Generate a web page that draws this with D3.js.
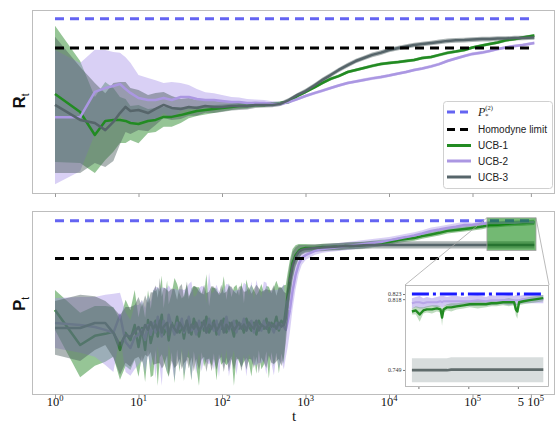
<!DOCTYPE html>
<html>
<head>
<meta charset="utf-8">
<script src="https://cdn.jsdelivr.net/npm/d3@7"></script>
<style>
    body { margin: 0; background: #fff; }
    svg { display: block; font-family: "Liberation Sans", Arial, sans-serif; }
</style>
</head>
<body>
<div id="chart"></div>
<script>
const W = 557, H = 423;

// reference levels
const pStar = 0.823;
const homodyne = 0.708;
const refT = [1, 550000];

// x ticks
const xTickVals = [1, 10, 100, 1000, 10000, 100000, 500000];
const xTickBase = ["10", "10", "10", "10", "10", "10", "5 10"];
const xTickExp = ["0", "1", "2", "3", "4", "5", "5"];

// top panel: R_t (mean and spread)
const tTop = [1, 2, 3, 4, 5, 6, 7, 8, 10, 13, 16, 20, 25, 32, 40, 50, 63, 80,
    100, 130, 160, 200, 250, 320, 400, 500, 630, 800,
    1000, 1300, 1600, 2000, 2500, 3200, 4000, 5000, 6300, 8000,
    10000, 13000, 16000, 20000, 25000, 32000, 40000, 50000, 63000, 80000,
    100000, 130000, 160000, 200000, 250000, 320000, 400000, 550000];
const r1 = [0.528, 0.457, 0.367, 0.422, 0.426, 0.426, 0.422, 0.414, 0.410, 0.422, 0.426, 0.438, 0.438, 0.445, 0.453, 0.461, 0.465, 0.469,
    0.473, 0.477, 0.481, 0.481, 0.485, 0.485, 0.489, 0.492, 0.496, 0.520,
    0.536, 0.555, 0.571, 0.587, 0.598, 0.614, 0.622, 0.630, 0.638, 0.645,
    0.649, 0.653, 0.657, 0.661, 0.669, 0.673, 0.681, 0.689, 0.694, 0.700,
    0.710, 0.718, 0.724, 0.730, 0.738, 0.743, 0.749, 0.757];
const r1Err = [0.267, 0.200, 0.149, 0.153, 0.125, 0.090, 0.086, 0.067, 0.075, 0.047, 0.047, 0.039, 0.039, 0.031, 0.020, 0.020, 0.018, 0.016,
    0.014, 0.012, 0.012, 0.010, 0.008, 0.008, 0.007, 0.006, 0.006, 0.006,
    0.006, 0.006, 0.006, 0.006, 0.006, 0.006, 0.006, 0.006, 0.006, 0.006,
    0.006, 0.006, 0.006, 0.006, 0.006, 0.006, 0.006, 0.006, 0.006, 0.006,
    0.006, 0.006, 0.006, 0.006, 0.006, 0.006, 0.006, 0.006];
const r2 = [0.437, 0.437, 0.536, 0.551, 0.559, 0.567, 0.547, 0.532, 0.512, 0.504, 0.504, 0.512, 0.504, 0.516, 0.516, 0.508, 0.504, 0.504,
    0.500, 0.496, 0.496, 0.492, 0.492, 0.492, 0.489, 0.489, 0.496, 0.508,
    0.520, 0.532, 0.541, 0.551, 0.561, 0.571, 0.577, 0.583, 0.589, 0.594,
    0.600, 0.608, 0.614, 0.622, 0.628, 0.636, 0.645, 0.657, 0.667, 0.677,
    0.685, 0.690, 0.696, 0.704, 0.710, 0.716, 0.720, 0.728];
const r2Err = [0.263, 0.212, 0.165, 0.149, 0.133, 0.122, 0.125, 0.118, 0.090, 0.086, 0.078, 0.059, 0.071, 0.055, 0.047, 0.039, 0.031, 0.027,
    0.024, 0.020, 0.018, 0.016, 0.014, 0.012, 0.010, 0.008, 0.006, 0.006,
    0.006, 0.006, 0.006, 0.006, 0.006, 0.006, 0.006, 0.006, 0.006, 0.006,
    0.006, 0.006, 0.006, 0.006, 0.006, 0.006, 0.006, 0.006, 0.006, 0.006,
    0.006, 0.006, 0.006, 0.006, 0.006, 0.006, 0.006, 0.006];
const r3 = [0.485, 0.426, 0.414, 0.386, 0.418, 0.453, 0.477, 0.461, 0.465, 0.453, 0.469, 0.485, 0.473, 0.469, 0.477, 0.473, 0.481, 0.477,
    0.477, 0.481, 0.481, 0.481, 0.485, 0.485, 0.485, 0.489, 0.504, 0.524,
    0.539, 0.563, 0.583, 0.602, 0.622, 0.641, 0.657, 0.669, 0.681, 0.690,
    0.700, 0.708, 0.714, 0.720, 0.724, 0.728, 0.732, 0.736, 0.738, 0.739,
    0.741, 0.743, 0.743, 0.745, 0.745, 0.747, 0.747, 0.749];
const r3Err = [0.267, 0.208, 0.157, 0.145, 0.153, 0.122, 0.098, 0.090, 0.078, 0.071, 0.063, 0.051, 0.047, 0.039, 0.035, 0.031, 0.027, 0.024,
    0.020, 0.018, 0.016, 0.014, 0.012, 0.010, 0.009, 0.008, 0.008, 0.008,
    0.009, 0.009, 0.009, 0.009, 0.009, 0.009, 0.009, 0.009, 0.009, 0.009,
    0.009, 0.009, 0.009, 0.009, 0.009, 0.009, 0.009, 0.009, 0.009, 0.009,
    0.009, 0.009, 0.009, 0.009, 0.009, 0.009, 0.009, 0.009];

// bottom panel: P_t (mean and spread)
const tBot = [1, 2, 3, 4, 5, 6, 7, 8, 9, 10, 11, 12, 13, 14,
    15, 16, 17, 18, 19, 20, 22, 23, 25, 27, 29, 31, 33, 35, 38, 40, 43, 46, 49, 53, 57, 61, 65, 70, 75, 80,
    86, 92, 98, 105, 113, 121, 130, 139, 149, 160, 171, 183, 196, 210, 225, 241, 258, 276, 296, 317,
    340, 364, 390, 418, 448, 480, 514, 550,
    580, 610, 650, 700, 760, 830, 900, 1000,
    1300, 1600, 2000, 2500, 3200, 4000, 5000, 6300, 8000,
    10000, 13000, 16000, 20000, 25000, 32000, 40000, 50000, 63000, 80000,
    100000, 130000, 160000, 200000, 250000, 320000, 400000, 550000];
const p1 = [0.551, 0.444, 0.472, 0.478, 0.484, 0.429, 0.481, 0.459, 0.505, 0.438, 0.496, 0.429, 0.520, 0.450,
    0.482, 0.518, 0.470, 0.506, 0.536, 0.476, 0.500, 0.458, 0.512, 0.488, 0.530, 0.482, 0.506, 0.464, 0.518, 0.494, 0.476, 0.524, 0.500, 0.470,
    0.512, 0.488, 0.530, 0.482, 0.500, 0.518, 0.476, 0.506, 0.494, 0.524, 0.482, 0.512, 0.500, 0.470, 0.518, 0.494, 0.506, 0.482, 0.524, 0.500,
    0.488, 0.512, 0.476, 0.518, 0.500, 0.494, 0.524, 0.482, 0.512, 0.500, 0.530, 0.488, 0.518, 0.506,
    0.551, 0.596, 0.648, 0.694, 0.718, 0.731, 0.737, 0.740,
    0.740, 0.743, 0.743, 0.744, 0.746, 0.747, 0.749, 0.752, 0.755,
    0.758, 0.764, 0.767, 0.770, 0.776, 0.781, 0.786, 0.792, 0.795, 0.798,
    0.801, 0.805, 0.810, 0.811, 0.813, 0.815, 0.816, 0.818];
const p1Err = [0.061, 0.098, 0.091, 0.085, 0.076, 0.091, 0.101, 0.091, 0.107, 0.091, 0.085, 0.098, 0.091, 0.104,
    0.13, 0.09, 0.15, 0.10, 0.12, 0.08, 0.14, 0.11, 0.09, 0.16, 0.10, 0.12, 0.08, 0.13, 0.11, 0.09, 0.14, 0.10, 0.12, 0.15,
    0.09, 0.11, 0.13, 0.08, 0.12, 0.10, 0.14, 0.09, 0.11, 0.13, 0.10, 0.12, 0.09, 0.15, 0.11, 0.10, 0.13, 0.09, 0.12, 0.11,
    0.14, 0.10, 0.12, 0.09, 0.13, 0.11, 0.10, 0.14, 0.09, 0.12, 0.11, 0.13, 0.10, 0.12,
    0.076, 0.067, 0.055, 0.043, 0.030, 0.021, 0.015, 0.012,
    0.010, 0.010, 0.010, 0.010, 0.010, 0.010, 0.010, 0.010, 0.010,
    0.008, 0.008, 0.008, 0.008, 0.008, 0.008, 0.008, 0.008, 0.008, 0.008,
    0.008, 0.008, 0.008, 0.008, 0.008, 0.008, 0.008, 0.008];
const p2 = [0.511, 0.505, 0.499, 0.490, 0.481, 0.536, 0.453, 0.435, 0.468, 0.475, 0.490, 0.459, 0.505, 0.475,
    0.512, 0.482, 0.530, 0.494, 0.470, 0.518, 0.488, 0.536, 0.500, 0.476, 0.512, 0.494, 0.524, 0.482, 0.506, 0.530, 0.488, 0.500, 0.476, 0.518,
    0.494, 0.512, 0.482, 0.524, 0.500, 0.488, 0.518, 0.476, 0.512, 0.494, 0.530, 0.488, 0.506, 0.518, 0.482, 0.512, 0.494, 0.524, 0.488, 0.506,
    0.518, 0.482, 0.512, 0.500, 0.488, 0.518, 0.494, 0.512, 0.500, 0.482, 0.512, 0.494, 0.506, 0.500,
    0.490, 0.514, 0.551, 0.609, 0.657, 0.691, 0.709, 0.718,
    0.731, 0.737, 0.740, 0.743, 0.746, 0.749, 0.752, 0.755, 0.758,
    0.763, 0.769, 0.773, 0.778, 0.784, 0.792, 0.796, 0.801, 0.805, 0.810,
    0.811, 0.814, 0.816, 0.816, 0.817, 0.817, 0.818, 0.818];
const p2Err = [0.076, 0.085, 0.091, 0.107, 0.119, 0.067, 0.091, 0.085, 0.098, 0.091, 0.091, 0.098, 0.091, 0.101,
    0.10, 0.14, 0.09, 0.12, 0.15, 0.10, 0.13, 0.09, 0.11, 0.14, 0.10, 0.12, 0.09, 0.13, 0.11, 0.10, 0.15, 0.09, 0.12, 0.10,
    0.13, 0.11, 0.09, 0.14, 0.10, 0.12, 0.11, 0.13, 0.09, 0.12, 0.10, 0.14, 0.11, 0.09, 0.13, 0.10, 0.12, 0.11, 0.14, 0.09,
    0.12, 0.10, 0.13, 0.11, 0.10, 0.12, 0.14, 0.09, 0.11, 0.13, 0.10, 0.12, 0.11, 0.13,
    0.085, 0.079, 0.067, 0.055, 0.043, 0.030, 0.021, 0.015,
    0.012, 0.012, 0.012, 0.012, 0.012, 0.012, 0.012, 0.012, 0.012,
    0.010, 0.010, 0.010, 0.010, 0.010, 0.010, 0.010, 0.010, 0.010, 0.010,
    0.006, 0.006, 0.006, 0.006, 0.006, 0.006, 0.006, 0.006];
const p3 = [0.496, 0.496, 0.511, 0.511, 0.481, 0.444, 0.475, 0.469, 0.484, 0.499, 0.475, 0.505, 0.490, 0.514,
    0.494, 0.506, 0.488, 0.518, 0.482, 0.500, 0.512, 0.476, 0.506, 0.494, 0.482, 0.512, 0.500, 0.488, 0.518, 0.482, 0.506, 0.494, 0.512, 0.488,
    0.500, 0.518, 0.482, 0.506, 0.494, 0.512, 0.488, 0.500, 0.518, 0.482, 0.506, 0.494, 0.512, 0.488, 0.500, 0.512, 0.494, 0.506, 0.488, 0.512,
    0.500, 0.494, 0.518, 0.488, 0.506, 0.500, 0.494, 0.512, 0.500, 0.506, 0.494, 0.512, 0.500, 0.506,
    0.526, 0.575, 0.636, 0.685, 0.712, 0.728, 0.734, 0.737,
    0.740, 0.741, 0.743, 0.744, 0.746, 0.747, 0.748, 0.749, 0.749,
    0.749, 0.749, 0.749, 0.749, 0.749, 0.749, 0.749, 0.749, 0.749, 0.749,
    0.749, 0.749, 0.749, 0.749, 0.749, 0.749, 0.749, 0.749];
const p3Err = [0.082, 0.101, 0.082, 0.067, 0.076, 0.091, 0.085, 0.091, 0.082, 0.091, 0.085, 0.091, 0.082, 0.091,
    0.11, 0.12, 0.10, 0.13, 0.11, 0.12, 0.10, 0.13, 0.11, 0.12, 0.10, 0.11, 0.13, 0.10, 0.12, 0.11, 0.10, 0.13, 0.11, 0.12,
    0.10, 0.11, 0.12, 0.10, 0.13, 0.11, 0.12, 0.10, 0.11, 0.12, 0.10, 0.13, 0.11, 0.12, 0.10, 0.11, 0.13, 0.10, 0.12, 0.11,
    0.10, 0.12, 0.11, 0.13, 0.10, 0.11, 0.12, 0.10, 0.11, 0.12, 0.10, 0.11, 0.12, 0.10,
    0.076, 0.067, 0.055, 0.043, 0.030, 0.021, 0.015, 0.012,
    0.011, 0.011, 0.011, 0.011, 0.011, 0.011, 0.011, 0.011, 0.011,
    0.011, 0.011, 0.011, 0.011, 0.011, 0.011, 0.011, 0.011, 0.011, 0.011,
    0.011, 0.011, 0.011, 0.011, 0.011, 0.011, 0.011, 0.011];

// inset (zoom of late P_t)
const inXDom = [149000, 576000];
const inYDom = [0.7324, 0.8318];
const inYTicks = [0.749, 0.818, 0.823];
const inXTicks = [169000, 270000, 430000];
const inT = [159000, 165000, 171000, 177000, 183000, 192000, 201000, 208000, 211000, 214000,
    221000, 230000, 242000, 258000, 274000, 295000, 319000, 335000, 352000, 374000,
    395000, 415000, 422000, 428000, 435000, 453000, 480000, 513000, 546000];
const inP1 = [0.806, 0.807, 0.803, 0.807, 0.808, 0.808, 0.809, 0.808, 0.800, 0.808,
    0.810, 0.810, 0.811, 0.812, 0.813, 0.813, 0.813, 0.814, 0.814, 0.815,
    0.815, 0.815, 0.808, 0.806, 0.815, 0.816, 0.817, 0.818, 0.819];
const inP1Err = [0.003, 0.004, 0.007, 0.003, 0.003, 0.004, 0.003, 0.003, 0.008, 0.003,
    0.003, 0.004, 0.003, 0.003, 0.003, 0.004, 0.003, 0.003, 0.003, 0.003,
    0.004, 0.003, 0.006, 0.007, 0.003, 0.003, 0.003, 0.003, 0.003];
const inP2 = [0.814, 0.815, 0.815, 0.814, 0.815, 0.815, 0.815, 0.816, 0.815, 0.816,
    0.816, 0.816, 0.816, 0.816, 0.816, 0.817, 0.816, 0.817, 0.817, 0.817,
    0.817, 0.817, 0.817, 0.817, 0.817, 0.818, 0.818, 0.818, 0.818];
const inP2Err = [0.005, 0.005, 0.006, 0.005, 0.005, 0.004, 0.005, 0.005, 0.006, 0.005,
    0.004, 0.005, 0.005, 0.004, 0.005, 0.005, 0.004, 0.005, 0.004, 0.004,
    0.005, 0.004, 0.005, 0.005, 0.004, 0.004, 0.004, 0.004, 0.004];
const inP3 = [0.7488, 0.7488, 0.7488, 0.7488, 0.7488, 0.7488, 0.7488, 0.7488, 0.7488, 0.7488,
    0.7488, 0.7493, 0.7493, 0.7493, 0.7493, 0.7493, 0.7493, 0.7493, 0.7493, 0.7493,
    0.7493, 0.7493, 0.7493, 0.7493, 0.7493, 0.7493, 0.7493, 0.7493, 0.7493];
const inP3Err = [0.0117, 0.0117, 0.0117, 0.0117, 0.0117, 0.0117, 0.0117, 0.0117, 0.0117, 0.0117,
    0.0117, 0.0122, 0.0122, 0.0122, 0.0122, 0.0122, 0.0122, 0.0122, 0.0122, 0.0122,
    0.0122, 0.0122, 0.0122, 0.0122, 0.0122, 0.0122, 0.0122, 0.0122, 0.0122];

const legendLabels = ["", "Homodyne limit", "UCB-1", "UCB-2", "UCB-3"];

const colors = {
    star: "#6464f2", homo: "#000000",
    ucb1: "#228b22", ucb2: "#ab97e2", ucb3: "#56656a",
    fill1: "#2e8b2e", fill2: "#a48fe6", fill3: "#4a5a5a"
};

const svg = d3.select("#chart").append("svg")
    .attr("width", W)
    .attr("height", H);

const x = d3.scaleLog().domain([0.5303, 972700]).range([32, 555]);
const yTop = d3.scaleLinear().domain([0.1395, 0.8571]).range([193, 10]);
const yBot = d3.scaleLinear().domain([0.2946, 0.8526]).range([394, 211]);

// split: lines below this t go under the bands (noisy part), the rest on top
function drawBands(body, xs, y, t, series, split) {
    const mkLine = (s, def) => d3.line()
        .defined(def)
        .x(d => xs(d))
        .y((d, i) => y(s.m[i]));
    const addLine = (s, def) => body.append("path").datum(t)
        .attr("d", mkLine(s, def))
        .attr("fill", "none")
        .attr("stroke", s.color)
        .attr("stroke-width", s.w || 2.5)
        .attr("stroke-linejoin", "round");

    if (split) series.forEach(s => addLine(s, d => d <= split));
    series.forEach(s => {
        body.append("path").datum(t)
            .attr("d", d3.area()
                .x(d => xs(d))
                .y0((d, i) => y(s.m[i] - s.e[i]))
                .y1((d, i) => y(s.m[i] + s.e[i])))
            .attr("fill", s.fill)
            .attr("fill-opacity", s.op)
            .attr("stroke", "none");
    });
    series.forEach(s => addLine(s, d => !split || d >= split));
}

function drawPanel(top, bottom, y, t, series, id, split) {
    svg.append("clipPath").attr("id", id).append("rect")
        .attr("x", 32).attr("y", top).attr("width", 523).attr("height", bottom - top);
    const g = svg.append("g");
    const body = g.append("g").attr("clip-path", `url(#${id})`);

    drawBands(body, x, y, t, series, split);

    // reference levels
    [[pStar, colors.star], [homodyne, colors.homo]].forEach(([v, c]) => {
        body.append("line")
            .attr("x1", x(refT[0])).attr("x2", x(refT[1]))
            .attr("y1", y(v)).attr("y2", y(v))
            .attr("stroke", c)
            .attr("stroke-width", 3)
            .attr("stroke-dasharray", "9,6");
    });

    g.append("rect")
        .attr("x", 32.5).attr("y", top + 0.5)
        .attr("width", 522).attr("height", bottom - top)
        .attr("fill", "none").attr("stroke", "#bdbdbd");

    const ax = g.append("g")
        .attr("transform", `translate(0,${bottom + 0.5})`)
        .call(d3.axisBottom(x).tickValues(xTickVals).tickSize(3.5).tickFormat(""));
    ax.select(".domain").remove();
    ax.selectAll("line").attr("stroke", "#999");
    return body;
}

const mkSeries = (a, b, c) => [
    { m: a[0], e: a[1], fill: colors.fill1, op: 0.5, color: colors.ucb1 },
    { m: b[0], e: b[1], fill: colors.fill2, op: 0.42, color: colors.ucb2 },
    { m: c[0], e: c[1], fill: colors.fill3, op: 0.45, color: colors.ucb3 }
];

drawPanel(10, 193, yTop, tTop, mkSeries([r1, r1Err], [r2, r2Err], [r3, r3Err]), "clipTop");
drawPanel(211, 394, yBot, tBot, mkSeries([p1, p1Err], [p2, p2Err], [p3, p3Err]), "clipBot", 650);

// zoom rectangle and connectors
const rx0 = x(inXDom[0]), rx1 = x(inXDom[1]);
const ry0 = yBot(inYDom[1]), ry1 = yBot(inYDom[0]);
const inBox = { x0: 405, x1: 549, y0: 285, y1: 387 };

svg.append("line").attr("x1", rx0).attr("y1", ry0).attr("x2", inBox.x0).attr("y2", inBox.y0)
    .attr("stroke", "#a8a8a8").attr("stroke-width", 0.8);
svg.append("line").attr("x1", rx1).attr("y1", ry0).attr("x2", inBox.x1).attr("y2", inBox.y0)
    .attr("stroke", "#a8a8a8").attr("stroke-width", 0.8);
svg.append("rect")
    .attr("x", rx0).attr("y", ry0).attr("width", rx1 - rx0).attr("height", ry1 - ry0)
    .attr("fill", "green").attr("fill-opacity", 0.55)
    .attr("stroke", "#a0a0a0").attr("stroke-width", 0.8);

// inset
const xIn = d3.scaleLog().domain(inXDom).range([inBox.x0, inBox.x1]);
const yIn = d3.scaleLinear().domain(inYDom).range([inBox.y1, inBox.y0]);
svg.append("clipPath").attr("id", "clipIn").append("rect")
    .attr("x", inBox.x0).attr("y", inBox.y0)
    .attr("width", inBox.x1 - inBox.x0).attr("height", inBox.y1 - inBox.y0);
const inset = svg.append("g");
inset.append("rect")
    .attr("x", inBox.x0).attr("y", inBox.y0)
    .attr("width", inBox.x1 - inBox.x0).attr("height", inBox.y1 - inBox.y0)
    .attr("fill", "#fff");
const inBody = inset.append("g").attr("clip-path", "url(#clipIn)");
drawBands(inBody, xIn, yIn, inT, [
    { m: inP3, e: inP3Err, fill: "#a9b3b3", op: 0.45, color: "#5f6b6b", w: 2.6 },
    { m: inP2, e: inP2Err, fill: colors.fill2, op: 0.5, color: "#b8a6e8", w: 2 },
    { m: inP1, e: inP1Err, fill: colors.fill1, op: 0.3, color: colors.ucb1, w: 2.4 }
]);
inBody.append("line")
    .attr("x1", xIn(inT[0])).attr("x2", xIn(inT[inT.length - 1]))
    .attr("y1", yIn(pStar)).attr("y2", yIn(pStar))
    .attr("stroke", "#1a1aff").attr("stroke-width", 3)
    .attr("stroke-dasharray", "17,4,3,4");
inset.append("rect")
    .attr("x", inBox.x0 + 0.5).attr("y", inBox.y0 + 0.5)
    .attr("width", inBox.x1 - inBox.x0 - 1).attr("height", inBox.y1 - inBox.y0 - 1)
    .attr("fill", "none").attr("stroke", "#aaa").attr("stroke-width", 0.8);
const inY = inset.append("g")
    .attr("transform", `translate(${inBox.x0},0)`)
    .call(d3.axisLeft(yIn).tickValues(inYTicks).tickSize(2).tickPadding(1.5).tickFormat(d3.format(".3f")));
inY.select(".domain").remove();
inY.selectAll("line").attr("stroke", "#777");
inY.selectAll("text").attr("font-family", "'Liberation Serif', serif").attr("font-size", 6).attr("fill", "#333");
const inX = inset.append("g")
    .attr("transform", `translate(0,${inBox.y1})`)
    .call(d3.axisBottom(xIn).tickValues(inXTicks).tickSize(2).tickFormat(""));
inX.select(".domain").remove();
inX.selectAll("line").attr("stroke", "#777");

// x tick labels (bottom panel)
xTickVals.forEach((v, i) => {
    const tx = svg.append("text")
        .attr("x", x(v)).attr("y", 406)
        .attr("text-anchor", "middle")
        .attr("font-family", "'Liberation Serif', 'Times New Roman', serif")
        .attr("font-size", 12.5)
        .attr("fill", "#111");
    tx.append("tspan").text(xTickBase[i]);
    tx.append("tspan").attr("dy", -5).attr("font-size", 8.5).text(xTickExp[i]);
});

svg.append("text")
    .attr("x", 294).attr("y", 421)
    .attr("text-anchor", "middle")
    .attr("font-family", "'Liberation Serif', serif")
    .attr("font-size", 15)
    .attr("fill", "#111")
    .text("t");

// y labels
[["R", 101], ["P", 304]].forEach(([s, cy]) => {
    const t = svg.append("text")
        .attr("transform", `translate(25,${cy}) rotate(-90)`)
        .attr("text-anchor", "middle")
        .attr("font-size", 17)
        .attr("font-weight", "bold")
        .attr("fill", "#111");
    t.append("tspan").text(s);
    t.append("tspan").attr("dy", 4).attr("font-size", 10).attr("font-weight", "normal").text("t");
});

// legend
const lg = svg.append("g");
lg.append("rect")
    .attr("x", 443.5).attr("y", 101.5).attr("width", 109).attr("height", 87).attr("rx", 3)
    .attr("fill", "#fff").attr("fill-opacity", 0.85)
    .attr("stroke", "#d0d0d0");
const rowY = [112, 129.5, 145.5, 161, 177];
const legStyles = [
    { c: colors.star, dash: "8,5" },
    { c: colors.homo, dash: "8,5" },
    { c: colors.ucb1, dash: null },
    { c: colors.ucb2, dash: null },
    { c: colors.ucb3, dash: null }
];
legStyles.forEach((s, i) => {
    lg.append("line")
        .attr("x1", 447).attr("x2", 471)
        .attr("y1", rowY[i]).attr("y2", rowY[i])
        .attr("stroke", s.c).attr("stroke-width", 3)
        .attr("stroke-dasharray", s.dash);
    if (legendLabels[i]) {
        lg.append("text")
            .attr("x", 478).attr("y", rowY[i] + 3.5)
            .attr("font-size", 10)
            .attr("fill", "#222")
            .text(legendLabels[i]);
    }
});
const pl = lg.append("text")
    .attr("x", 478).attr("y", rowY[0] + 4)
    .attr("font-family", "'Liberation Serif', serif")
    .attr("fill", "#222");
pl.append("tspan").attr("font-size", 12).attr("font-style", "italic").text("P");
pl.append("tspan").attr("font-size", 6.5).attr("dy", -6).text("(2)");
lg.append("text")
    .attr("x", 485).attr("y", rowY[0] + 6)
    .attr("font-family", "'Liberation Serif', serif")
    .attr("font-size", 7)
    .attr("fill", "#222")
    .text("*");
</script>
</body>
</html>
